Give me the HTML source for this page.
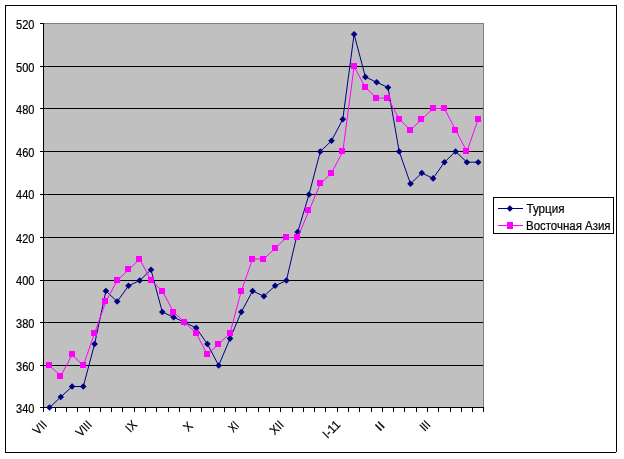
<!DOCTYPE html>
<html lang="ru"><head><meta charset="utf-8"><title>Chart</title>
<style>
html,body{margin:0;padding:0;background:#fff;}
body{width:624px;height:459px;overflow:hidden;}
svg{display:block;}
text{font-family:"Liberation Sans",sans-serif;font-size:12.3px;fill:#000;stroke:#000;stroke-width:0.2px;}
</style></head><body>
<svg width="624" height="459" viewBox="0 0 624 459">
<rect x="0" y="0" width="624" height="459" fill="#fff"/>
<g shape-rendering="crispEdges">
<rect x="5" y="5" width="612" height="1" fill="#000"/><rect x="5" y="5" width="1" height="448" fill="#000"/><rect x="5" y="452" width="611" height="1" fill="#000"/><rect x="616" y="5" width="1" height="447" fill="#000"/>
<rect x="44" y="23" width="440" height="384" fill="#c0c0c0"/>
<rect x="44" y="23" width="440" height="1" fill="#808080"/>
<rect x="483" y="23" width="1" height="385" fill="#808080"/>
<rect x="44" y="66" width="439" height="1" fill="#000"/>
<rect x="44" y="108" width="439" height="1" fill="#000"/>
<rect x="44" y="151" width="439" height="1" fill="#000"/>
<rect x="44" y="194" width="439" height="1" fill="#000"/>
<rect x="44" y="237" width="439" height="1" fill="#000"/>
<rect x="44" y="280" width="439" height="1" fill="#000"/>
<rect x="44" y="322" width="439" height="1" fill="#000"/>
<rect x="44" y="365" width="439" height="1" fill="#000"/>
<rect x="43" y="23" width="1" height="385" fill="#000"/>
<rect x="43" y="407" width="441" height="1" fill="#000"/>
<rect x="40" y="23" width="4" height="1" fill="#000"/>
<rect x="40" y="66" width="4" height="1" fill="#000"/>
<rect x="40" y="108" width="4" height="1" fill="#000"/>
<rect x="40" y="151" width="4" height="1" fill="#000"/>
<rect x="40" y="194" width="4" height="1" fill="#000"/>
<rect x="40" y="237" width="4" height="1" fill="#000"/>
<rect x="40" y="280" width="4" height="1" fill="#000"/>
<rect x="40" y="322" width="4" height="1" fill="#000"/>
<rect x="40" y="365" width="4" height="1" fill="#000"/>
<rect x="40" y="407" width="4" height="1" fill="#000"/>
<rect x="43" y="407" width="1" height="5" fill="#000"/>
<rect x="55" y="407" width="1" height="5" fill="#000"/>
<rect x="66" y="407" width="1" height="5" fill="#000"/>
<rect x="77" y="407" width="1" height="5" fill="#000"/>
<rect x="89" y="407" width="1" height="5" fill="#000"/>
<rect x="100" y="407" width="1" height="5" fill="#000"/>
<rect x="111" y="407" width="1" height="5" fill="#000"/>
<rect x="122" y="407" width="1" height="5" fill="#000"/>
<rect x="134" y="407" width="1" height="5" fill="#000"/>
<rect x="145" y="407" width="1" height="5" fill="#000"/>
<rect x="156" y="407" width="1" height="5" fill="#000"/>
<rect x="168" y="407" width="1" height="5" fill="#000"/>
<rect x="179" y="407" width="1" height="5" fill="#000"/>
<rect x="190" y="407" width="1" height="5" fill="#000"/>
<rect x="201" y="407" width="1" height="5" fill="#000"/>
<rect x="213" y="407" width="1" height="5" fill="#000"/>
<rect x="224" y="407" width="1" height="5" fill="#000"/>
<rect x="235" y="407" width="1" height="5" fill="#000"/>
<rect x="246" y="407" width="1" height="5" fill="#000"/>
<rect x="258" y="407" width="1" height="5" fill="#000"/>
<rect x="269" y="407" width="1" height="5" fill="#000"/>
<rect x="280" y="407" width="1" height="5" fill="#000"/>
<rect x="292" y="407" width="1" height="5" fill="#000"/>
<rect x="303" y="407" width="1" height="5" fill="#000"/>
<rect x="314" y="407" width="1" height="5" fill="#000"/>
<rect x="325" y="407" width="1" height="5" fill="#000"/>
<rect x="337" y="407" width="1" height="5" fill="#000"/>
<rect x="348" y="407" width="1" height="5" fill="#000"/>
<rect x="359" y="407" width="1" height="5" fill="#000"/>
<rect x="371" y="407" width="1" height="5" fill="#000"/>
<rect x="382" y="407" width="1" height="5" fill="#000"/>
<rect x="393" y="407" width="1" height="5" fill="#000"/>
<rect x="404" y="407" width="1" height="5" fill="#000"/>
<rect x="416" y="407" width="1" height="5" fill="#000"/>
<rect x="427" y="407" width="1" height="5" fill="#000"/>
<rect x="438" y="407" width="1" height="5" fill="#000"/>
<rect x="450" y="407" width="1" height="5" fill="#000"/>
<rect x="461" y="407" width="1" height="5" fill="#000"/>
<rect x="472" y="407" width="1" height="5" fill="#000"/>
<rect x="483" y="407" width="1" height="5" fill="#000"/>
</g>
<polyline points="49.5,407.5 60.8,397.0 72.1,386.5 83.3,386.5 94.6,344.0 105.9,291.0 117.2,301.5 128.5,285.8 139.7,280.5 151.0,269.8 162.3,312.0 173.6,317.2 184.9,322.5 196.2,327.9 207.4,344.0 218.7,365.5 230.0,338.6 241.3,312.0 252.6,291.0 263.9,296.2 275.1,285.8 286.4,280.5 297.7,232.1 309.0,194.5 320.3,151.5 331.5,140.8 342.8,119.2 354.1,34.2 365.4,77.0 376.7,82.2 388.0,87.5 399.2,151.5 410.5,183.8 421.8,173.0 433.1,178.4 444.4,162.2 455.6,151.5 466.9,162.2 478.2,162.2" fill="none" stroke="#000080" stroke-width="1"/>
<path d="M46.2,407.5 L49.5,404.2 L52.8,407.5 L49.5,410.8Z" fill="#000080"/>
<path d="M57.5,397.0 L60.8,393.7 L64.1,397.0 L60.8,400.3Z" fill="#000080"/>
<path d="M68.8,386.5 L72.1,383.2 L75.4,386.5 L72.1,389.8Z" fill="#000080"/>
<path d="M80.0,386.5 L83.3,383.2 L86.6,386.5 L83.3,389.8Z" fill="#000080"/>
<path d="M91.3,344.0 L94.6,340.7 L97.9,344.0 L94.6,347.3Z" fill="#000080"/>
<path d="M102.6,291.0 L105.9,287.7 L109.2,291.0 L105.9,294.3Z" fill="#000080"/>
<path d="M113.9,301.5 L117.2,298.2 L120.5,301.5 L117.2,304.8Z" fill="#000080"/>
<path d="M125.2,285.8 L128.5,282.4 L131.8,285.8 L128.5,289.1Z" fill="#000080"/>
<path d="M136.4,280.5 L139.7,277.2 L143.0,280.5 L139.7,283.8Z" fill="#000080"/>
<path d="M147.7,269.8 L151.0,266.4 L154.3,269.8 L151.0,273.1Z" fill="#000080"/>
<path d="M159.0,312.0 L162.3,308.7 L165.6,312.0 L162.3,315.3Z" fill="#000080"/>
<path d="M170.3,317.2 L173.6,313.9 L176.9,317.2 L173.6,320.6Z" fill="#000080"/>
<path d="M181.6,322.5 L184.9,319.2 L188.2,322.5 L184.9,325.8Z" fill="#000080"/>
<path d="M192.9,327.9 L196.2,324.6 L199.5,327.9 L196.2,331.2Z" fill="#000080"/>
<path d="M204.1,344.0 L207.4,340.7 L210.7,344.0 L207.4,347.3Z" fill="#000080"/>
<path d="M215.4,365.5 L218.7,362.2 L222.0,365.5 L218.7,368.8Z" fill="#000080"/>
<path d="M226.7,338.6 L230.0,335.3 L233.3,338.6 L230.0,341.9Z" fill="#000080"/>
<path d="M238.0,312.0 L241.3,308.7 L244.6,312.0 L241.3,315.3Z" fill="#000080"/>
<path d="M249.3,291.0 L252.6,287.7 L255.9,291.0 L252.6,294.3Z" fill="#000080"/>
<path d="M260.6,296.2 L263.9,292.9 L267.2,296.2 L263.9,299.6Z" fill="#000080"/>
<path d="M271.8,285.8 L275.1,282.4 L278.4,285.8 L275.1,289.1Z" fill="#000080"/>
<path d="M283.1,280.5 L286.4,277.2 L289.7,280.5 L286.4,283.8Z" fill="#000080"/>
<path d="M294.4,232.1 L297.7,228.8 L301.0,232.1 L297.7,235.4Z" fill="#000080"/>
<path d="M305.7,194.5 L309.0,191.2 L312.3,194.5 L309.0,197.8Z" fill="#000080"/>
<path d="M317.0,151.5 L320.3,148.2 L323.6,151.5 L320.3,154.8Z" fill="#000080"/>
<path d="M328.2,140.8 L331.5,137.4 L334.8,140.8 L331.5,144.1Z" fill="#000080"/>
<path d="M339.5,119.2 L342.8,116.0 L346.1,119.2 L342.8,122.5Z" fill="#000080"/>
<path d="M350.8,34.2 L354.1,30.9 L357.4,34.2 L354.1,37.5Z" fill="#000080"/>
<path d="M362.1,77.0 L365.4,73.7 L368.7,77.0 L365.4,80.3Z" fill="#000080"/>
<path d="M373.4,82.2 L376.7,79.0 L380.0,82.2 L376.7,85.5Z" fill="#000080"/>
<path d="M384.7,87.5 L388.0,84.2 L391.3,87.5 L388.0,90.8Z" fill="#000080"/>
<path d="M395.9,151.5 L399.2,148.2 L402.5,151.5 L399.2,154.8Z" fill="#000080"/>
<path d="M407.2,183.8 L410.5,180.4 L413.8,183.8 L410.5,187.1Z" fill="#000080"/>
<path d="M418.5,173.0 L421.8,169.7 L425.1,173.0 L421.8,176.3Z" fill="#000080"/>
<path d="M429.8,178.4 L433.1,175.1 L436.4,178.4 L433.1,181.7Z" fill="#000080"/>
<path d="M441.1,162.2 L444.4,158.9 L447.7,162.2 L444.4,165.6Z" fill="#000080"/>
<path d="M452.3,151.5 L455.6,148.2 L458.9,151.5 L455.6,154.8Z" fill="#000080"/>
<path d="M463.6,162.2 L466.9,158.9 L470.2,162.2 L466.9,165.6Z" fill="#000080"/>
<path d="M474.9,162.2 L478.2,158.9 L481.5,162.2 L478.2,165.6Z" fill="#000080"/>
<polyline points="49.5,365.5 60.8,376.0 72.1,354.8 83.3,365.5 94.6,333.2 105.9,301.5 117.2,280.5 128.5,269.8 139.7,259.0 151.0,280.5 162.3,291.0 173.6,312.0 184.9,322.5 196.2,333.2 207.4,354.8 218.7,344.0 230.0,333.2 241.3,291.0 252.6,259.0 263.9,259.0 275.1,248.2 286.4,237.5 297.7,237.5 309.0,210.6 320.3,183.8 331.5,173.0 342.8,151.5 354.1,66.5 365.4,87.5 376.7,98.0 388.0,98.0 399.2,119.2 410.5,130.0 421.8,119.2 433.1,108.5 444.4,108.5 455.6,130.0 466.9,151.5 478.2,119.2" fill="none" stroke="#ff00ff" stroke-width="1"/>
<rect x="46" y="362" width="6" height="6" fill="#ff00ff" shape-rendering="crispEdges"/>
<rect x="57" y="373" width="6" height="6" fill="#ff00ff" shape-rendering="crispEdges"/>
<rect x="69" y="351" width="6" height="6" fill="#ff00ff" shape-rendering="crispEdges"/>
<rect x="80" y="362" width="6" height="6" fill="#ff00ff" shape-rendering="crispEdges"/>
<rect x="91" y="330" width="6" height="6" fill="#ff00ff" shape-rendering="crispEdges"/>
<rect x="102" y="298" width="6" height="6" fill="#ff00ff" shape-rendering="crispEdges"/>
<rect x="114" y="277" width="6" height="6" fill="#ff00ff" shape-rendering="crispEdges"/>
<rect x="125" y="266" width="6" height="6" fill="#ff00ff" shape-rendering="crispEdges"/>
<rect x="136" y="256" width="6" height="6" fill="#ff00ff" shape-rendering="crispEdges"/>
<rect x="148" y="277" width="6" height="6" fill="#ff00ff" shape-rendering="crispEdges"/>
<rect x="159" y="288" width="6" height="6" fill="#ff00ff" shape-rendering="crispEdges"/>
<rect x="170" y="309" width="6" height="6" fill="#ff00ff" shape-rendering="crispEdges"/>
<rect x="181" y="319" width="6" height="6" fill="#ff00ff" shape-rendering="crispEdges"/>
<rect x="193" y="330" width="6" height="6" fill="#ff00ff" shape-rendering="crispEdges"/>
<rect x="204" y="351" width="6" height="6" fill="#ff00ff" shape-rendering="crispEdges"/>
<rect x="215" y="341" width="6" height="6" fill="#ff00ff" shape-rendering="crispEdges"/>
<rect x="227" y="330" width="6" height="6" fill="#ff00ff" shape-rendering="crispEdges"/>
<rect x="238" y="288" width="6" height="6" fill="#ff00ff" shape-rendering="crispEdges"/>
<rect x="249" y="256" width="6" height="6" fill="#ff00ff" shape-rendering="crispEdges"/>
<rect x="260" y="256" width="6" height="6" fill="#ff00ff" shape-rendering="crispEdges"/>
<rect x="272" y="245" width="6" height="6" fill="#ff00ff" shape-rendering="crispEdges"/>
<rect x="283" y="234" width="6" height="6" fill="#ff00ff" shape-rendering="crispEdges"/>
<rect x="294" y="234" width="6" height="6" fill="#ff00ff" shape-rendering="crispEdges"/>
<rect x="305" y="207" width="6" height="6" fill="#ff00ff" shape-rendering="crispEdges"/>
<rect x="317" y="180" width="6" height="6" fill="#ff00ff" shape-rendering="crispEdges"/>
<rect x="328" y="170" width="6" height="6" fill="#ff00ff" shape-rendering="crispEdges"/>
<rect x="339" y="148" width="6" height="6" fill="#ff00ff" shape-rendering="crispEdges"/>
<rect x="351" y="63" width="6" height="6" fill="#ff00ff" shape-rendering="crispEdges"/>
<rect x="362" y="84" width="6" height="6" fill="#ff00ff" shape-rendering="crispEdges"/>
<rect x="373" y="95" width="6" height="6" fill="#ff00ff" shape-rendering="crispEdges"/>
<rect x="384" y="95" width="6" height="6" fill="#ff00ff" shape-rendering="crispEdges"/>
<rect x="396" y="116" width="6" height="6" fill="#ff00ff" shape-rendering="crispEdges"/>
<rect x="407" y="127" width="6" height="6" fill="#ff00ff" shape-rendering="crispEdges"/>
<rect x="418" y="116" width="6" height="6" fill="#ff00ff" shape-rendering="crispEdges"/>
<rect x="430" y="105" width="6" height="6" fill="#ff00ff" shape-rendering="crispEdges"/>
<rect x="441" y="105" width="6" height="6" fill="#ff00ff" shape-rendering="crispEdges"/>
<rect x="452" y="127" width="6" height="6" fill="#ff00ff" shape-rendering="crispEdges"/>
<rect x="463" y="148" width="6" height="6" fill="#ff00ff" shape-rendering="crispEdges"/>
<rect x="475" y="116" width="6" height="6" fill="#ff00ff" shape-rendering="crispEdges"/>
<text x="34.5" y="28.8" text-anchor="end" textLength="18.4" lengthAdjust="spacingAndGlyphs">520</text>
<text x="34.5" y="71.8" text-anchor="end" textLength="18.4" lengthAdjust="spacingAndGlyphs">500</text>
<text x="34.5" y="113.8" text-anchor="end" textLength="18.4" lengthAdjust="spacingAndGlyphs">480</text>
<text x="34.5" y="156.8" text-anchor="end" textLength="18.4" lengthAdjust="spacingAndGlyphs">460</text>
<text x="34.5" y="198.8" text-anchor="end" textLength="18.4" lengthAdjust="spacingAndGlyphs">440</text>
<text x="34.5" y="242.8" text-anchor="end" textLength="18.4" lengthAdjust="spacingAndGlyphs">420</text>
<text x="34.5" y="284.8" text-anchor="end" textLength="18.4" lengthAdjust="spacingAndGlyphs">400</text>
<text x="34.5" y="327.8" text-anchor="end" textLength="18.4" lengthAdjust="spacingAndGlyphs">380</text>
<text x="34.5" y="370.8" text-anchor="end" textLength="18.4" lengthAdjust="spacingAndGlyphs">360</text>
<text x="34.5" y="412.8" text-anchor="end" textLength="18.4" lengthAdjust="spacingAndGlyphs">340</text>
<text transform="translate(47.7,425.5) rotate(-45)" text-anchor="end" textLength="14.0" lengthAdjust="spacingAndGlyphs">VII</text>
<text transform="translate(92.8,425.5) rotate(-45)" text-anchor="end" textLength="17.1" lengthAdjust="spacingAndGlyphs">VIII</text>
<text transform="translate(137.9,425.5) rotate(-45)" text-anchor="end" textLength="10.7" lengthAdjust="spacingAndGlyphs">IX</text>
<text transform="translate(193.5,426.8) rotate(-45)" text-anchor="end" textLength="7.6" lengthAdjust="spacingAndGlyphs">X</text>
<text transform="translate(239.8,426.3) rotate(-45)" text-anchor="end" textLength="9.4" lengthAdjust="spacingAndGlyphs">XI</text>
<text transform="translate(284.6,425.5) rotate(-45)" text-anchor="end" textLength="14.0" lengthAdjust="spacingAndGlyphs">XII</text>
<text transform="translate(341.0,425.5) rotate(-45)" text-anchor="end" textLength="19.0" lengthAdjust="spacingAndGlyphs">I-11</text>
<text transform="translate(385.6,426.4) rotate(-45)" text-anchor="end" textLength="8.0" lengthAdjust="spacingAndGlyphs">II</text>
<text transform="translate(431.0,425.7) rotate(-45)" text-anchor="end" textLength="9.0" lengthAdjust="spacingAndGlyphs">III</text>
<rect x="493.5" y="197.5" width="120" height="36" fill="#fff" stroke="#000" stroke-width="1" shape-rendering="crispEdges"/>
<rect x="498" y="208" width="25" height="1" fill="#000080" shape-rendering="crispEdges"/>
<path d="M506.6,208.5 L509.9,205.2 L513.2,208.5 L509.9,211.8Z" fill="#000080"/>
<rect x="498" y="225" width="25" height="1" fill="#ff00ff" shape-rendering="crispEdges"/>
<rect x="507" y="222" width="6" height="7" fill="#ff00ff" shape-rendering="crispEdges"/>
<text x="526.5" y="213" textLength="38" lengthAdjust="spacingAndGlyphs">Турция</text>
<text x="526" y="230" textLength="84.5" lengthAdjust="spacingAndGlyphs">Восточная Азия</text>
</svg></body></html>
